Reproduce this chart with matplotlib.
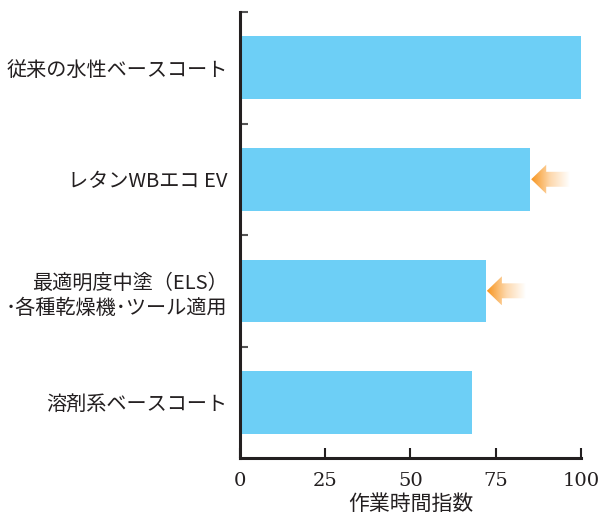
import numpy as np
import matplotlib.pyplot as plt
from matplotlib.path import Path
from matplotlib.patches import PathPatch
from matplotlib.colors import LinearSegmentedColormap

plt.rcParams['font.family'] = ['Noto Sans CJK JP', 'DejaVu Sans']

# data
categories = ['従来の水性ベースコート', 'レタンWBエコ EV',
              '最適明度中塗（ELS）\n･各種乾燥機･ツール適用', '溶剤系ベースコート']
values = [100, 85, 72, 68]
highlight = [False, True, True, False]
xticks = [0, 25, 50, 75, 100]
xlabel = '作業時間指数'

bar_color = '#6DCFF6'
text_color = '#231F20'

fig = plt.figure(figsize=(6.03, 5.2), dpi=100)
ax = fig.add_axes([0.398, 0.119, 0.5655, 0.858])

y = np.arange(len(categories))
ax.barh(y, values, height=0.56, color=bar_color, zorder=2)

ax.set_xticks(xticks)
ax.set_xticklabels([str(t) for t in xticks], fontsize=14, color=text_color,
                   family=['DejaVu Serif'])
ax.set_yticks(y)
ax.set_yticklabels(categories, fontsize=14.5, color=text_color, linespacing=1.3)
ax.tick_params(axis='y', which='major', length=0, pad=9)
ax.set_yticks(np.arange(-0.5, len(categories) - 0.5, 1), minor=True)
ax.tick_params(axis='y', which='minor', direction='in', length=6, width=1.5,
               color='#555555')
ax.tick_params(axis='x', direction='in', length=7, width=1.5, pad=10,
               color=text_color)
ax.set_xlabel(xlabel, fontsize=15, color=text_color, labelpad=2)

for s in ['top', 'right']:
    ax.spines[s].set_visible(False)
for s in ['left', 'bottom']:
    ax.spines[s].set_linewidth(2.2)
    ax.spines[s].set_color(text_color)

# gradient arrows pointing at highlighted bars
cmap = LinearSegmentedColormap.from_list('arr', ['#F7941D', '#FDD9AE', '#FFFFFF'])
grad = np.linspace(0, 1, 256).reshape(1, -1)
for yi, v, h in zip(y, values, highlight):
    if not h:
        continue
    tip = v + 0.4
    head = 4.4
    length = 11.2
    hh = 0.13
    bh = 0.067
    verts = [(tip, yi), (tip + head, yi - hh), (tip + head, yi - bh),
             (tip + length, yi - bh), (tip + length, yi + bh),
             (tip + head, yi + bh), (tip + head, yi + hh), (tip, yi)]
    codes = [Path.MOVETO] + [Path.LINETO] * 6 + [Path.CLOSEPOLY]
    patch = PathPatch(Path(verts, codes), facecolor='none', edgecolor='none')
    ax.add_patch(patch)
    im = ax.imshow(grad, cmap=cmap, aspect='auto', zorder=3,
                   extent=[tip, tip + length, yi + hh, yi - hh])
    im.set_clip_path(patch)

ax.set_xlim(0, 100)
ax.set_ylim(len(categories) - 0.5, -0.5)

fig.savefig('out.png', dpi=100)
